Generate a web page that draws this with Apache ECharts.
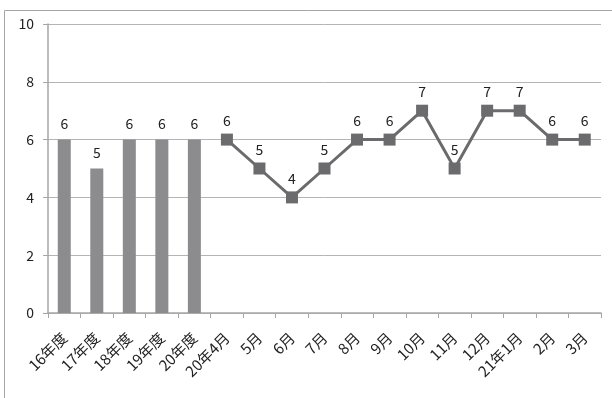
<!DOCTYPE html>
<html>
<head>
<meta charset="utf-8">
<script src="https://cdn.jsdelivr.net/npm/echarts@6/dist/echarts.min.js"></script>
<style>
  html, body { margin: 0; padding: 0; background: #fff; }
  #chart { width: 612px; height: 398px; }
</style>
</head>
<body>
<div id="chart"></div>
<script>
// Category labels along the x axis
const categories = ['16年度', '17年度', '18年度', '19年度', '20年度',
  '20年4月', '5月', '6月', '7月', '8月', '9月', '10月', '11月', '12月', '21年1月', '2月', '3月'];
// Yearly values (bars)
const yearlyValues = [6, 5, 6, 6, 6];
// Monthly values for FY2020 (line)
const monthlyValues = [6, 5, 4, 5, 6, 6, 7, 5, 7, 7, 6, 6];
// Y axis range
const yMin = 0, yMax = 10, yStep = 2;

const barData = categories.map((c, i) => i < yearlyValues.length ? yearlyValues[i] : '-');
const lineData = categories.map((c, i) => i >= yearlyValues.length ? monthlyValues[i - yearlyValues.length] : '-');

const font = '"Noto Sans CJK JP", "Noto Sans", sans-serif';
const chart = echarts.init(document.getElementById('chart'), null, { renderer: 'canvas' });
chart.setOption({
  animation: false,
  backgroundColor: '#fff',
  graphic: [{
    type: 'rect',
    shape: { x: 4.5, y: 10.5, width: 800, height: 600 },
    style: { fill: 'none', stroke: '#a6a6a6', lineWidth: 1 },
    silent: true
  }],
  grid: { left: 48, right: 11, top: 24, bottom: 85, containLabel: false },
  xAxis: {
    type: 'category',
    data: categories,
    boundaryGap: true,
    axisLine: { lineStyle: { color: '#a6a6a6', width: 1.5 } },
    axisTick: { show: true, length: 5, lineStyle: { color: '#a6a6a6' } },
    axisLabel: { rotate: 45, color: '#222', fontSize: 15, fontFamily: font, margin: 22, interval: 0 }
  },
  yAxis: {
    type: 'value',
    min: yMin, max: yMax, interval: yStep,
    axisLine: { show: true, lineStyle: { color: '#a6a6a6', width: 1.5 } },
    axisTick: { show: true, length: 5, lineStyle: { color: '#a6a6a6' } },
    splitLine: { lineStyle: { color: '#b4b4b4', width: 1 } },
    axisLabel: { color: '#222', fontSize: 14, fontFamily: font, margin: 14 }
  },
  series: [{
    type: 'bar',
    data: barData,
    barWidth: 13,
    itemStyle: { color: '#8c8c8f' },
    label: { show: true, position: 'top', distance: 9, color: '#222', fontSize: 14, fontFamily: font }
  }, {
    type: 'line',
    data: lineData,
    symbol: 'rect',
    symbolSize: 12,
    showAllSymbol: true,
    connectNulls: false,
    lineStyle: { color: '#6b6b6e', width: 3 },
    itemStyle: { color: '#6b6b6e' },
    label: { show: true, position: 'top', distance: 6, color: '#222', fontSize: 14, fontFamily: font }
  }]
});
</script>
</body>
</html>
